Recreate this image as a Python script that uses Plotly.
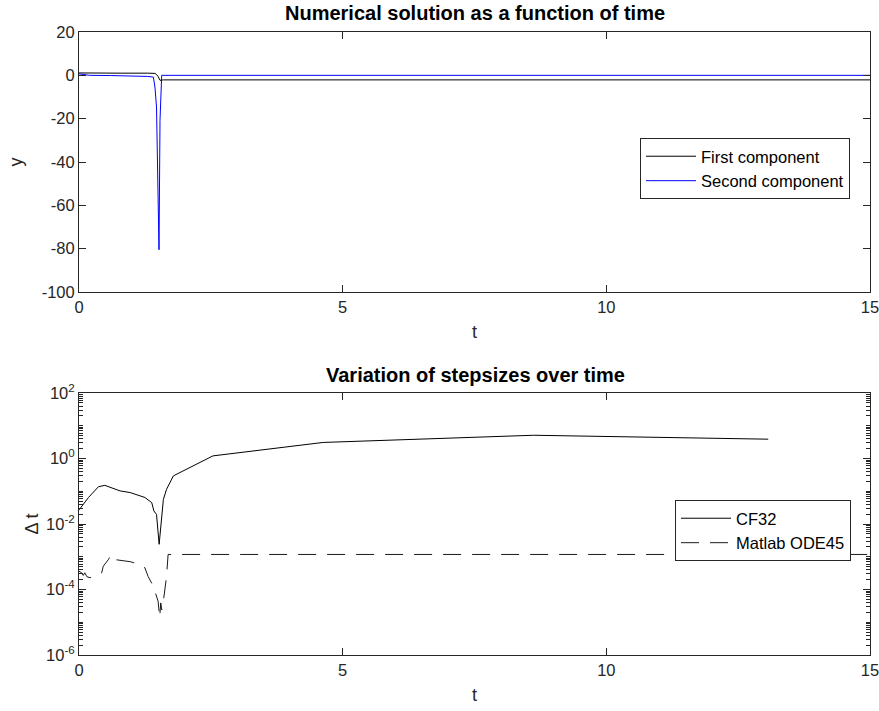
import plotly.graph_objects as go

# ---- Top panel: numerical solution ----
t_first = [0.0, 0.2, 0.8, 1.30, 1.44, 1.47, 1.50, 1.536, 1.60, 15.0]
y_first = [1.1, 1.0, 1.0, 1.0, 0.9, 0.4, -0.5, -2.3, -2.1, -2.1]

t_second = [0.0, 0.05, 0.12, 0.2, 0.6, 1.0, 1.30, 1.41, 1.44, 1.47, 1.50, 1.517, 1.536, 1.555, 1.568, 15.0]
y_second = [0.7, 0.5, 0.2, 0.0, -0.1, -0.2, -0.5, -0.8, -5.4, -14.6, -51.6, -80.5, -20.8, -0.8, 0.0, 0.0]

# ---- Bottom panel: step sizes (log10 values) ----
t_cf32 = [0.0, 0.18, 0.37, 0.49, 0.78, 0.97, 1.25, 1.38, 1.42, 1.47, 1.52, 1.57,
          1.60, 1.66, 1.79, 2.54, 4.63, 8.62, 13.07]
log_cf32 = [-1.57, -1.19, -0.86, -0.82, -0.99, -1.04, -1.19, -1.35, -1.60, -1.71, -2.62, -1.65,
            -1.25, -0.94, -0.53, 0.08, 0.49, 0.71, 0.59]

t_ode45 = [0.0, 0.05, 0.08, 0.11, 0.15, 0.21, 0.30, 0.43, 0.46, 0.56, 0.60, 0.65, 0.97,
           1.16, 1.25, 1.31, 1.41, 1.50, 1.53, 1.55, 1.57, 1.60, 1.66, 1.67, 1.69, 15.0]
log_ode45 = [-3.44, -3.49, -3.57, -3.49, -3.61, -3.64, -3.57, -3.49, -3.29, -3.08, -2.95, -3.08, -3.15,
             -3.24, -3.34, -3.60, -3.90, -4.36, -4.86, -4.41, -4.62, -4.36, -3.60, -3.24, -2.93, -2.93]

x_ticks = [0, 5, 10, 15]
y_top_ticks = [20, 0, -20, -40, -60, -80, -100]
log_major = [-6, -4, -2, 0, 2]

dt_cf32 = [10 ** v for v in log_cf32]
dt_ode45 = [10 ** v for v in log_ode45]

FONT = "Liberation Sans, Arial, Helvetica, sans-serif"
AX = "#262626"
TICKSZ = 16.5

fig = go.Figure()
fig.add_trace(go.Scatter(x=t_first, y=y_first, mode="lines", name="First component",
                         line=dict(color="black", width=1), xaxis="x", yaxis="y", legend="legend"))
fig.add_trace(go.Scatter(x=t_second, y=y_second, mode="lines", name="Second component",
                         line=dict(color="#0000ff", width=1), xaxis="x", yaxis="y", legend="legend"))
fig.add_trace(go.Scatter(x=t_cf32, y=dt_cf32, mode="lines", name="CF32",
                         line=dict(color="black", width=1), xaxis="x2", yaxis="y2", legend="legend2"))
fig.add_trace(go.Scatter(x=t_ode45, y=dt_ode45, mode="lines", name="Matlab ODE45",
                         line=dict(color="black", width=0.9, dash="18px,11px"),
                         xaxis="x2", yaxis="y2", legend="legend2"))

W, H = 879, 711
def fx(px):
    return px / W
def fy(py):
    return 1 - py / H

common_x = dict(range=[0, 15], tickvals=x_ticks, ticktext=[str(v) for v in x_ticks],
                ticks="inside", ticklen=7, tickcolor=AX, ticklabeloverflow="allow",
                showline=True, linecolor=AX, linewidth=1, mirror="ticks", showgrid=False,
                zeroline=False, automargin=False, tickfont=dict(size=TICKSZ, color=AX, family=FONT),
                title=dict(text="t", font=dict(size=18, color=AX, family=FONT), standoff=10))

minor_vals = []
for k in range(-6, 2):
    for m in range(1, 10):
        v = m * 10 ** k
        if m == 1 and k % 2 == 0:
            continue
        minor_vals.append(v)

fig.update_layout(
    width=W, height=H,
    margin=dict(l=0, r=0, t=0, b=0),
    paper_bgcolor="white", plot_bgcolor="white",
    font=dict(family=FONT, color=AX),
    xaxis=dict(domain=[fx(79), fx(870)], anchor="y", **common_x),
    yaxis=dict(domain=[fy(292), fy(32)], anchor="x", range=[-100, 20], tickvals=y_top_ticks,
               ticktext=[str(v) for v in y_top_ticks], ticklabeloverflow="allow",
               ticks="inside", ticklen=7, tickcolor=AX, showline=True, linecolor=AX, linewidth=1,
               mirror="ticks", showgrid=False, zeroline=False, automargin=False,
               tickfont=dict(size=TICKSZ, color=AX, family=FONT),
               title=dict(text="y", font=dict(size=18, color=AX, family=FONT), standoff=14)),
    xaxis2=dict(domain=[fx(79), fx(870)], anchor="y2", **common_x),
    yaxis2=dict(domain=[fy(655), fy(393)], anchor="x2", type="log", range=[-6, 2],
                tickvals=[10 ** k for k in log_major],
                ticktext=["10<sup>%d</sup>" % k for k in log_major], ticklabeloverflow="allow",
                ticks="inside", ticklen=7, tickcolor=AX, showline=True, linecolor=AX, linewidth=1,
                mirror="ticks", showgrid=False, zeroline=False, automargin=False,
                tickfont=dict(size=TICKSZ, color=AX, family=FONT),
                minor=dict(tickvals=minor_vals, ticks="inside", ticklen=4, tickcolor=AX, showgrid=False),
                title=dict(text="Δ t", font=dict(size=18, color=AX, family=FONT), standoff=2)),
    legend=dict(x=fx(850), y=fy(138), xanchor="right", yanchor="top",
                bordercolor=AX, borderwidth=1, bgcolor="white", itemwidth=50,
                font=dict(size=TICKSZ, color="black", family=FONT), tracegroupgap=0),
    legend2=dict(x=fx(851), y=fy(500), xanchor="right", yanchor="top",
                 bordercolor=AX, borderwidth=1, bgcolor="white", itemwidth=50,
                 font=dict(size=TICKSZ, color="black", family=FONT), tracegroupgap=0),
    annotations=[
        dict(text="<b>Numerical solution as a function of time</b>", x=fx(475), y=fy(13),
             xref="paper", yref="paper", showarrow=False, xanchor="center", yanchor="middle",
             font=dict(size=20, color="black", family=FONT)),
        dict(text="<b>Variation of stepsizes over time</b>", x=fx(475), y=fy(375),
             xref="paper", yref="paper", showarrow=False, xanchor="center", yanchor="middle",
             font=dict(size=20, color="black", family=FONT)),
    ],
    showlegend=True,
)

fig.write_html("out.html")
